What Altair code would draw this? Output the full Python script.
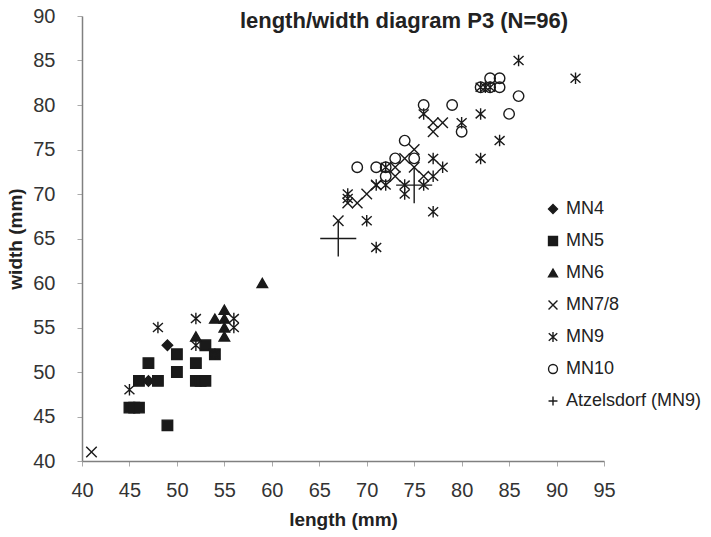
import altair as alt
import pandas as pd

groups = ["MN4", "MN5", "MN6", "MN7/8", "MN9", "MN10", "Atzelsdorf (MN9)"]

mn4_length = [47, 49]
mn4_width = [49, 53]

mn5_length = [45, 45.5, 46, 49, 46, 48, 47, 50, 50, 52, 52, 52.5, 53, 53, 54]
mn5_width = [46, 46, 46, 44, 49, 49, 51, 52, 50, 51, 49, 49, 49, 53, 52]

mn6_length = [59, 55, 54, 55, 55, 55, 52]
mn6_width = [60, 57, 56, 56, 55, 54, 54]

mn78_length = [41, 67, 69, 70, 71, 73, 73, 74, 75, 75, 77, 78, 77, 68, 76]
mn78_width = [41, 67, 69, 70, 71, 72, 73, 74, 75, 73, 78, 78, 77, 69, 72]

mn9_length = [45, 48, 52, 56, 56, 54, 52, 71, 70, 77, 68, 68, 71, 72, 74, 74, 76, 77,
              77, 78, 82, 84, 76, 80, 82, 86, 92, 82, 82.5, 83, 72]
mn9_width = [48, 55, 56, 56, 55, 52, 53, 64, 67, 68, 70, 69.5, 71, 71, 71, 70, 71, 72,
             74, 73, 74, 76, 79, 78, 79, 85, 83, 82, 82, 82, 73]

mn10_length = [69, 71, 72, 72, 73, 75, 74, 76, 79, 80, 83, 84, 84, 86, 85, 82, 83]
mn10_width = [73, 73, 73, 72, 74, 74, 76, 80, 80, 77, 83, 83, 82, 81, 79, 82, 82]

atz_length = [67, 75]
atz_width = [65, 71]

lengths = [mn4_length, mn5_length, mn6_length, mn78_length, mn9_length, mn10_length, atz_length]
widths = [mn4_width, mn5_width, mn6_width, mn78_width, mn9_width, mn10_width, atz_width]

rows = []
for g, L, W in zip(groups, lengths, widths):
    for l, w in zip(L, W):
        rows.append({"group": g, "length": l, "width": w})
df = pd.DataFrame(rows)

X_PATH = "M-1,-1L1,1M-1,1L1,-1"
AST_PATH = "M-0.95,-0.85L0.95,0.85M-0.95,0.85L0.95,-0.85M0,-1.1L0,1.1"
PLUS_PATH = "M-1,0L1,0M0,-1L0,1"
shapes = ["diamond", "square", "triangle-up", X_PATH, AST_PATH, "circle", PLUS_PATH]
ink = "#1a1a1a"
fills = [ink, ink, ink, "transparent", "transparent", "transparent", "transparent"]
strokes = [ink] * len(groups)


def make_legend():
    return alt.Legend(title=None, symbolStrokeWidth=1.4)


chart = alt.Chart(df).transform_calculate(
    sz="datum.group == 'Atzelsdorf (MN9)' ? 1300 : 110"
).mark_point(filled=False, strokeWidth=1.4, opacity=1).encode(
    x=alt.X("length:Q",
            scale=alt.Scale(domain=[40, 95], nice=False, zero=False),
            axis=alt.Axis(values=list(range(40, 96, 5)), title="length (mm)",
                          titlePadding=10, labelPadding=14, labelFlush=False)),
    y=alt.Y("width:Q",
            scale=alt.Scale(domain=[40, 90], nice=False, zero=False),
            axis=alt.Axis(values=list(range(40, 91, 5)), title="width (mm)",
                          titlePadding=7, labelPadding=22, labelFlush=False)),
    shape=alt.Shape("group:N", scale=alt.Scale(domain=groups, range=shapes),
                    legend=make_legend()),
    fill=alt.Fill("group:N", scale=alt.Scale(domain=groups, range=fills),
                  legend=make_legend()),
    stroke=alt.Stroke("group:N", scale=alt.Scale(domain=groups, range=strokes),
                      legend=make_legend()),
    size=alt.Size("sz:Q", scale=None, legend=None),
).properties(
    width=522,
    height=445,
    autosize=alt.AutoSizeParams(type="none"),
    padding={"left": 82, "top": 16, "right": 107, "bottom": 76},
    title=alt.TitleParams("length/width diagram P3 (N=96)", font="Liberation Sans",
                          fontSize=22, fontWeight="bold", color="#222222",
                          anchor="middle", dx=61, dy=44, offset=0, baseline="alphabetic"),
).configure_view(stroke=None).configure_axis(
    grid=False,
    domainColor="#808080", domainWidth=1.5,
    tickColor="#aaaaaa", tickSize=5, tickWidth=1,
    labelFont="Liberation Sans", labelFontSize=20, labelColor="#333333",
    titleFont="Liberation Sans", titleFontSize=19, titleFontWeight="bold", titleColor="#222222",
).configure_legend(
    orient="none", legendX=462, legendY=184,
    labelFont="Liberation Sans", labelFontSize=18, labelColor="#222222",
    symbolSize=80, symbolStrokeWidth=1.3,
    rowPadding=14, labelOffset=4, labelLimit=250,
)

chart.save("out.html", embed_options={"renderer": "svg", "actions": False})
